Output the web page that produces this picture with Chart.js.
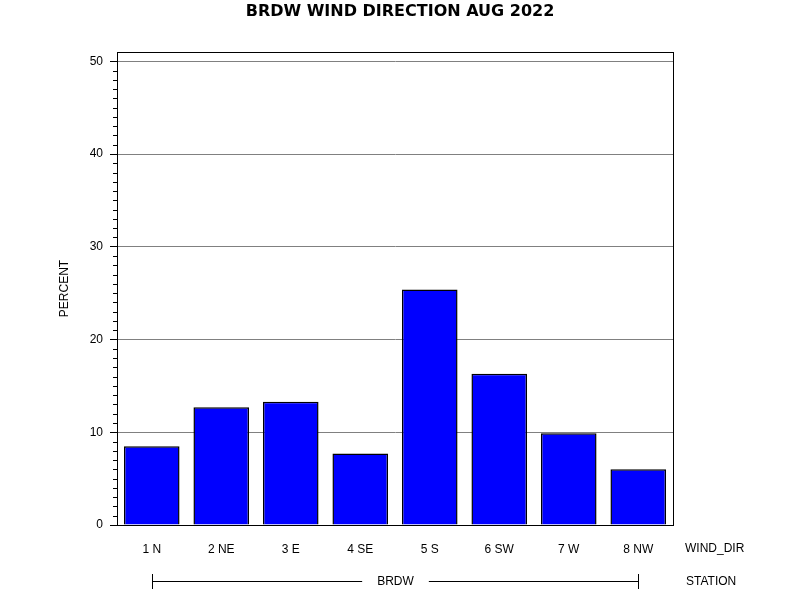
<!DOCTYPE html>
<html>
<head>
<meta charset="utf-8">
<title>BRDW WIND DIRECTION AUG 2022</title>
<script src="https://cdn.jsdelivr.net/npm/chart.js@4"></script>
<style>
  body { margin: 0; background: #fff; }
  canvas { display: block; }
</style>
</head>
<body>
<canvas id="myChart" width="800" height="600"></canvas>
<script>
// data
const windDirs = ["1 N", "2 NE", "3 E", "4 SE", "5 S", "6 SW", "7 W", "8 NW"];
const percents = [8.5, 12.7, 13.3, 7.7, 25.4, 16.3, 9.9, 6.0];
const yTicks = [0, 10, 20, 30, 40, 50];
const yMax = 51;
const station = "BRDW";
const chartTitle = "BRDW WIND DIRECTION AUG 2022";

const FONT = "'Liberation Sans', Arial, sans-serif";

// title, frame, minor ticks and the group axis under the bars
const extras = {
  id: 'extras',
  afterDraw(chart) {
    const ctx = chart.ctx;
    const area = chart.chartArea;
    const x = chart.scales.x;
    const y = chart.scales.y;
    ctx.save();
    ctx.strokeStyle = '#000';
    ctx.lineWidth = 1;

    // title centred on the page
    ctx.fillStyle = '#000';
    ctx.font = "bold 16px 'DejaVu Sans', Verdana, sans-serif";
    ctx.textAlign = 'center';
    ctx.textBaseline = 'middle';
    ctx.fillText(chartTitle, 400, 12);

    // box round the plot
    ctx.strokeRect(Math.round(area.left) + 0.5, Math.round(area.top) + 0.5,
      Math.round(area.right - area.left), Math.round(area.bottom - area.top));

    // minor ticks every 1 unit
    ctx.beginPath();
    for (let v = 1; v < yMax; v++) {
      if (v % 10 === 0) continue;
      const py = Math.round(y.getPixelForValue(v)) + 0.5;
      ctx.moveTo(area.left - 4, py);
      ctx.lineTo(area.left, py);
    }
    ctx.stroke();

    ctx.font = '12px ' + FONT;
    ctx.textAlign = 'left';
    ctx.fillText('WIND_DIR', 685, 549);
    ctx.fillText('STATION', 686, 582);

    // station bracket
    const x0 = Math.round(x.getPixelForValue(0)) + 0.5;
    const x1 = Math.round(x.getPixelForValue(windDirs.length - 1)) + 0.5;
    const mid = (x0 + x1) / 2;
    const ly = 581.5;
    const half = ctx.measureText(station).width / 2 + 15;
    ctx.beginPath();
    ctx.moveTo(x0, 574); ctx.lineTo(x0, 589);
    ctx.moveTo(x1, 574); ctx.lineTo(x1, 589);
    ctx.moveTo(x0, ly); ctx.lineTo(mid - half, ly);
    ctx.moveTo(mid + half, ly); ctx.lineTo(x1, ly);
    ctx.stroke();
    ctx.textAlign = 'center';
    ctx.fillText(station, mid, 582);
    ctx.restore();
  }
};

const ctx = document.getElementById('myChart').getContext('2d');

const chart = new Chart(ctx, {
  type: 'bar',
  data: {
    labels: windDirs,
    datasets: [{
      label: 'PERCENT',
      data: percents,
      backgroundColor: '#0000FF',
      borderColor: '#000000',
      borderWidth: 1.5,
      categoryPercentage: 1,
      barPercentage: 0.8
    }]
  },
  options: {
    responsive: false,
    animation: false,
    layout: { padding: { left: 50, right: 127, top: 52, bottom: 0 } },
    plugins: {
      legend: { display: false },
      tooltip: { enabled: false },
      title: { display: false }
    },
    scales: {
      x: {
        grid: { display: false, drawTicks: false },
        border: { display: true, color: '#000', width: 1 },
        ticks: {
          color: '#000',
          font: { family: FONT, size: 12 },
          padding: 17,
          maxRotation: 0
        },
        afterFit(scale) { scale.height = 75; }
      },
      y: {
        z: 1,
        min: 0,
        max: yMax,
        afterBuildTicks(scale) {
          scale.ticks = yTicks.map(v => ({ value: v }));
        },
        grid: {
          color: '#808080',
          lineWidth: 1,
          tickLength: 7,
          tickColor: '#000'
        },
        border: { display: true, color: '#000', width: 1 },
        ticks: {
          color: '#000',
          font: { family: FONT, size: 12 },
          padding: 7
        },
        title: {
          display: true,
          text: 'PERCENT',
          color: '#000',
          font: { family: FONT, size: 12 },
          padding: { top: 7, bottom: 0 }
        },
        afterFit(scale) { scale.width = 67; }
      }
    }
  },
  plugins: [extras]
});
</script>
</body>
</html>
